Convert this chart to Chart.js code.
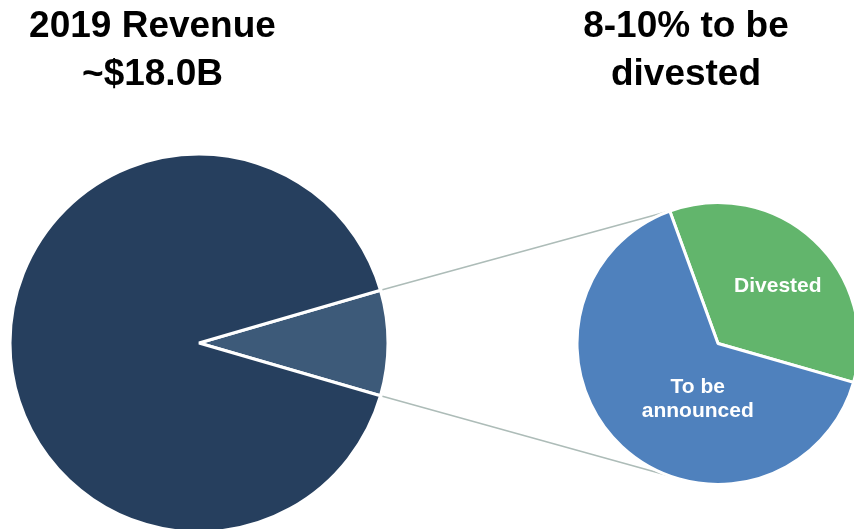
<!DOCTYPE html>
<html>
<head>
<meta charset="utf-8">
<script src="https://cdn.jsdelivr.net/npm/chart.js@4.4.1/dist/chart.umd.min.js"></script>
<style>
    html, body { margin: 0; padding: 0; background: #fff; overflow: hidden; }
    #wrap { position: relative; width: 854px; height: 529px; overflow: hidden; }
    canvas { position: absolute; left: 0; top: 0; }
    .titulo {
        position: absolute; top: 1px;
        font: bold 37px "Liberation Sans", Arial, sans-serif;
        line-height: 48px; text-align: center; color: #000;
    }
</style>
</head>
<body>
<div id="wrap">
    <canvas id="chartReceita" width="854" height="529"></canvas>
    <canvas id="chartDesinvest" width="854" height="529"></canvas>
    <div class="titulo" style="left:0; width:305px;">2019 Revenue<br>~$18.0B</div>
    <div class="titulo" style="left:536px; width:300px;">8-10% to be<br>divested</div>
</div>
<script>
// Receita 2019 (% do total)
const receitaLabels = ['To be divested', 'Retained'];
const receitaValores = [9, 91];

// Parcela a desinvestir (% da parcela)
const desinvestLabels = ['Divested', 'To be announced'];
const desinvestValores = [35, 65];
const desinvestTextos = [['Divested'], ['To be', 'announced']];

const chartReceita = new Chart(document.getElementById('chartReceita'), {
    type: 'pie',
    data: {
        labels: receitaLabels,
        datasets: [{
            data: receitaValores,
            backgroundColor: ['#3d5a79', '#263f5e'],
            borderColor: '#ffffff',
            borderWidth: 3,
            radius: 189,
            clip: false
        }]
    },
    options: {
        responsive: false,
        animation: false,
        rotation: 73.8, // fatia pequena centrada às 3 horas
        layout: { padding: { left: 0, right: 456, top: 157, bottom: 0 } },
        plugins: { legend: { display: false }, tooltip: { enabled: false } }
    }
});

// linhas de ligação entre a fatia pequena e a segunda pizza
const ligacoes = {
    id: 'ligacoes',
    beforeDatasetsDraw(chart) {
        const fatia = chartReceita.getDatasetMeta(0).data[0];
        const arco = chart.getDatasetMeta(0).data[0];
        const r1 = fatia.outerRadius + 2;
        const a2 = arco.startAngle;
        const ctx = chart.ctx;
        ctx.save();
        ctx.strokeStyle = '#adbcb8';
        ctx.lineWidth = 1.6;
        [[fatia.startAngle, a2], [fatia.endAngle, -a2]].forEach(([a, b]) => {
            ctx.beginPath();
            ctx.moveTo(fatia.x + r1 * Math.cos(a), fatia.y + r1 * Math.sin(a));
            ctx.lineTo(arco.x + arco.outerRadius * Math.cos(b), arco.y + arco.outerRadius * Math.sin(b));
            ctx.stroke();
        });
        ctx.restore();
    },
    afterDatasetsDraw(chart) {
        const ctx = chart.ctx;
        const pos = [[-44, 0.59], [110, 0.42]]; // ângulo (graus) e fração do raio
        ctx.save();
        ctx.fillStyle = '#ffffff';
        ctx.font = 'bold 21px "Liberation Sans", Arial, sans-serif';
        ctx.textAlign = 'center';
        ctx.textBaseline = 'middle';
        chart.getDatasetMeta(0).data.forEach((arc, i) => {
            const ang = pos[i][0] * Math.PI / 180;
            const d = arc.outerRadius * pos[i][1];
            const linhas = desinvestTextos[i];
            const x = arc.x + d * Math.cos(ang);
            const y0 = arc.y + d * Math.sin(ang) - (linhas.length - 1) * 12;
            linhas.forEach((t, k) => ctx.fillText(t, x, y0 + k * 24));
        });
        ctx.restore();
    }
};

new Chart(document.getElementById('chartDesinvest'), {
    type: 'pie',
    data: {
        labels: desinvestLabels,
        datasets: [{
            data: desinvestValores,
            backgroundColor: ['#62b56c', '#4f81bd'],
            borderColor: '#ffffff',
            borderWidth: 3,
            radius: 141,
            clip: false
        }]
    },
    options: {
        responsive: false,
        animation: false,
        rotation: -20,
        layout: { padding: { left: 583, right: 1, top: 208, bottom: 50 } },
        plugins: { legend: { display: false }, tooltip: { enabled: false } }
    },
    plugins: [ligacoes]
});
</script>
</body>
</html>
